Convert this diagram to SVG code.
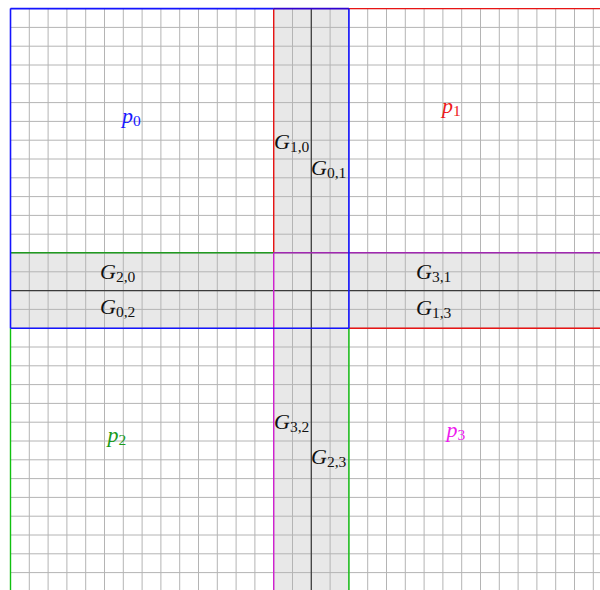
<svg xmlns="http://www.w3.org/2000/svg" width="600" height="590" viewBox="0 0 600 590">
<style>
.grid{stroke:#b4b4b4;stroke-width:1;fill:none}
.band{fill:#e8e8e8}
.axis{stroke:#3a3a3a;stroke-width:1.2;fill:none}
.b{stroke:#1414ff;stroke-width:1.6;fill:none}
.r{stroke:#e81414;stroke-width:1.4;fill:none}
.g{stroke:#10c010;stroke-width:1.4;fill:none}
.gd{stroke:#209a20;stroke-width:1.6;fill:none}
.m{stroke:#d020d0;stroke-width:1.4;fill:none}
.pu{stroke:#a028b0;stroke-width:1.6;fill:none}
.bp{stroke:#3000d0;stroke-width:1.6;fill:none}
text{font-family:"Liberation Serif","DejaVu Serif",serif;font-size:22px;fill:#111}
.it{font-style:italic}
.sub{font-size:15.5px}
</style>
<g id="bands">
<rect class="band" x="273.7" y="8.6" width="75.2" height="581.4"/>
<rect class="band" x="10.5" y="252.7" width="589.5" height="75.5"/>
</g>
<g id="grid">
<path class="grid" d="M10.5 8.6V590M29.3 8.6V590M48.1 8.6V590M66.9 8.6V590M85.7 8.6V590M104.5 8.6V590M123.3 8.6V590M142.1 8.6V590M160.9 8.6V590M179.7 8.6V590M198.5 8.6V590M217.3 8.6V590M236.1 8.6V590M254.9 8.6V590M273.7 8.6V590M292.5 8.6V590M311.3 8.6V590M330.1 8.6V590M348.9 8.6V590M367.7 8.6V590M386.5 8.6V590M405.3 8.6V590M424.1 8.6V590M442.9 8.6V590M461.7 8.6V590M480.5 8.6V590M499.3 8.6V590M518.1 8.6V590M536.9 8.6V590M555.7 8.6V590M574.5 8.6V590M593.3 8.6V590"/>
<path class="grid" d="M10.5 8.6H600M10.5 27.4H600M10.5 46.2H600M10.5 65H600M10.5 83.8H600M10.5 102.6H600M10.5 121.4H600M10.5 140.2H600M10.5 159H600M10.5 177.8H600M10.5 196.6H600M10.5 215.4H600M10.5 234.2H600M10.5 253H600M10.5 271.8H600M10.5 290.6H600M10.5 309.4H600M10.5 328.2H600M10.5 347H600M10.5 365.8H600M10.5 384.6H600M10.5 403.4H600M10.5 422.2H600M10.5 441H600M10.5 459.8H600M10.5 478.6H600M10.5 497.4H600M10.5 516.2H600M10.5 535H600M10.5 553.8H600M10.5 572.6H600"/>
</g>
<g id="connectors">
<path class="axis" d="M311.3 8.6V590M10.5 290.6H600"/>
<path class="r" d="M348.9 8.6H600M273.7 8.6V252.7M348.9 328.2H600"/>
<path class="g" d="M10.5 328.2V590M348.9 328.2V590"/>
<path class="gd" d="M10.5 252.7H273.7"/>
<path class="m" d="M273.7 252.7V590"/>
<path class="pu" d="M273.7 252.7H600"/>
<path class="b" d="M10.5 8.6H273.7M348.9 8.6V328.2M10.5 328.2H348.9M10.5 8.6V328.2"/>
<path class="bp" d="M273.7 8.6H348.9"/>
</g>
<g id="p0"><text x="122" y="123" class="it" style="fill:#1a1aff">p<tspan class="sub" dy="3" font-style="normal">0</tspan></text></g>
<g id="p1"><text x="442" y="113" class="it" style="fill:#ee1a1a">p<tspan class="sub" dy="3" font-style="normal">1</tspan></text></g>
<g id="p2"><text x="107.5" y="442" class="it" style="fill:#1a9a1a">p<tspan class="sub" dy="3" font-style="normal">2</tspan></text></g>
<g id="p3"><text x="446.5" y="437" class="it" style="fill:#ee1aee">p<tspan class="sub" dy="3" font-style="normal">3</tspan></text></g>
<g id="G20"><text x="100" y="279" class="it">G<tspan class="sub" dy="3" font-style="normal">2,0</tspan></text></g>
<g id="G02"><text x="100" y="314" class="it">G<tspan class="sub" dy="3" font-style="normal">0,2</tspan></text></g>
<g id="G31"><text x="416" y="279" class="it">G<tspan class="sub" dy="3" font-style="normal">3,1</tspan></text></g>
<g id="G13"><text x="416" y="315" class="it">G<tspan class="sub" dy="3" font-style="normal">1,3</tspan></text></g>
<g id="G10"><text x="274" y="148.5" class="it">G<tspan class="sub" dy="3" font-style="normal">1,0</tspan></text></g>
<g id="G01"><text x="311" y="175" class="it">G<tspan class="sub" dy="3" font-style="normal">0,1</tspan></text></g>
<g id="G32"><text x="274" y="428.5" class="it">G<tspan class="sub" dy="3" font-style="normal">3,2</tspan></text></g>
<g id="G23"><text x="311" y="463.5" class="it">G<tspan class="sub" dy="3" font-style="normal">2,3</tspan></text></g>
</svg>
